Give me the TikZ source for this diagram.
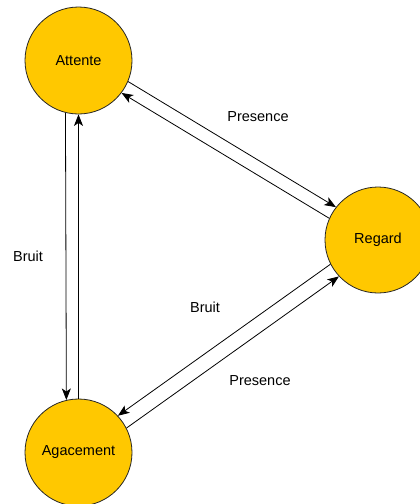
\documentclass[tikz,border=0pt]{standalone}
\usepackage{fontspec}
\setmainfont{Liberation Sans}
\usetikzlibrary{arrows.meta}
\definecolor{stateyellow}{RGB}{255,200,0}

\begin{document}
\begin{tikzpicture}[x=1pt,y=-1pt,
  state/.style={circle,draw=black!85,line width=0.8pt,fill=stateyellow,inner sep=0pt,
    minimum size=107pt,font=\fontsize{14.5}{17}\selectfont},
  lbl/.style={inner sep=0pt,font=\fontsize{14.5}{17}\selectfont},
  arr/.style={line width=0.8pt,-{Stealth[length=11.5pt,width=9pt,inset=3pt]}}]
\useasboundingbox (0,0) rectangle (420,504);

% --- states ------------------------------------------------------------
\node[state] (attente) at (78.5,60.5) {Attente};
\node[state,minimum size=106pt] (regard) at (378,240) {Regard};
\node[state] (agacement) at (78.5,452.5) {Agacement};

% --- Attente <-> Regard ------------------------------------------------
\draw[arr] (attente.-23.9) -- (regard.142.1);
\draw[arr] (regard.156.1) -- (attente.-37.9);
\node[lbl] (presA) at (258,117) {Presence};

% --- Regard <-> Agacement ----------------------------------------------
\draw[arr] (regard.207.3) -- (agacement.43.5);
\draw[arr] (agacement.27.3) -- (regard.223.5);
\node[lbl] (bruitR) at (205,307.5) {Bruit};
\node[lbl] (presG) at (260,381) {Presence};

% --- Attente <-> Agacement ---------------------------------------------
\draw[arr] (attente.256.5) -- (agacement.103.5);
\draw[arr] (agacement.north) -- (attente.south);
\node[lbl] (bruitA) at (28,256.5) {Bruit};
\end{tikzpicture}
\end{document}
